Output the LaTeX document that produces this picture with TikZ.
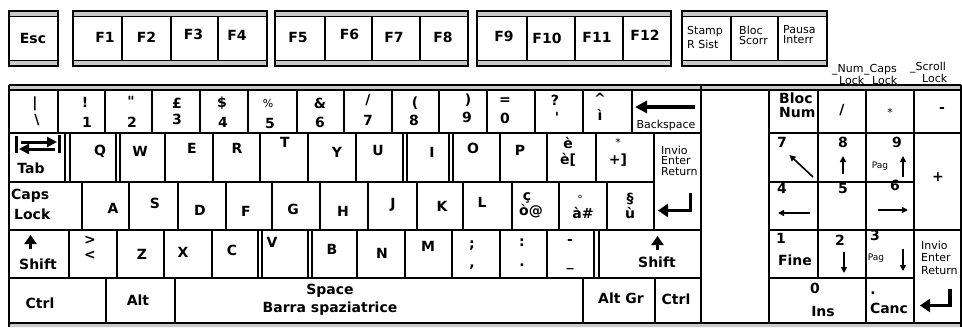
\documentclass[tikz,border=0pt]{standalone}
\usepackage{fontspec}
\setmainfont{DejaVu Sans}
\usetikzlibrary{arrows.meta}
\definecolor{stripgrey}{RGB}{200, 200, 200}
\newcommand{\keyfnt}{\fontsize{14}{14}\selectfont\bfseries}
\newcommand{\smallfnt}{\fontsize{11}{11}\selectfont}
\newcommand{\tinyfnt}{\fontsize{9}{9}\selectfont}

\begin{document}
\begin{tikzpicture}[x=1pt, y=-1pt,
    keyline/.style={line width=1.5pt},
    dbar/.style={line width=2pt},
    lbl/.style={font=\keyfnt, inner sep=0pt},
    sml/.style={font=\smallfnt, inner sep=0pt},
    tny/.style={font=\tinyfnt, inner sep=0pt},
    fatarrow/.style={line width=3.5pt, line join=miter, -{Triangle[length=10pt,width=13pt]}},
    shiftarrow/.style={line width=3.5pt, -{Triangle[length=9pt,width=12pt]}},
    tabarrow/.style={line width=3pt, -{Triangle[length=10pt,width=10pt]}},
    thinarrow/.style={line width=1.6pt, -{Triangle[length=6pt,width=6pt]}}]
    \useasboundingbox (0,0) rectangle (962,327);

    % function key groups
    \fill[stripgrey] (9,11) rectangle (58,16.5) (9,60.5) rectangle (58,66);
    \fill[stripgrey] (73,11) rectangle (267,16.5) (73,60.5) rectangle (267,66);
    \fill[stripgrey] (275,11) rectangle (468,16.5) (275,60.5) rectangle (468,66);
    \fill[stripgrey] (477,11) rectangle (671,16.5) (477,60.5) rectangle (671,66);
    \fill[stripgrey] (682,11) rectangle (827,16.5) (682,60.5) rectangle (827,66);
    \draw[keyline] (9,11) rectangle (58,66) (9,16.5) -- (58,16.5) (9,60.5) -- (58,60.5);
    \draw[keyline] (73,11) rectangle (267,66) (73,16.5) -- (267,16.5) (73,60.5) -- (267,60.5);
    \draw[keyline] (275,11) rectangle (468,66) (275,16.5) -- (468,16.5) (275,60.5) -- (468,60.5);
    \draw[keyline] (477,11) rectangle (671,66) (477,16.5) -- (671,16.5) (477,60.5) -- (671,60.5);
    \draw[keyline] (682,11) rectangle (827,66) (682,16.5) -- (827,16.5) (682,60.5) -- (827,60.5);
    \draw[keyline] (122,16.5) -- (122,60.5) (171,16.5) -- (171,60.5) (218,16.5) -- (218,60.5);
    \draw[keyline] (325,16.5) -- (325,60.5) (372,16.5) -- (372,60.5) (420,16.5) -- (420,60.5);
    \draw[keyline] (527,16.5) -- (527,60.5) (575,16.5) -- (575,60.5) (623,16.5) -- (623,60.5);
    \draw[keyline] (731,16.5) -- (731,60.5) (778,16.5) -- (778,60.5);

    \node[lbl] (esc) at (33,38) {Esc};
    \node[lbl] (f1) at (105,37) {F1};
    \node[lbl] (f2) at (146.5,37) {F2};
    \node[lbl] (f3) at (193.5,34) {F3};
    \node[lbl] (f4) at (237,35) {F4};
    \node[lbl] (f5) at (298,37) {F5};
    \node[lbl] (f6) at (349.5,34) {F6};
    \node[lbl] (f7) at (394,37) {F7};
    \node[lbl] (f8) at (443,37) {F8};
    \node[lbl] (f9) at (504,36) {F9};
    \node[lbl] (f10) at (547,38) {F10};
    \node[lbl] (f11) at (597,37) {F11};
    \node[lbl] (f12) at (645,35) {F12};
    \node[sml, anchor=west] (stamp1) at (687,32) {Stamp};
    \node[sml, anchor=west] (stamp2) at (687,44) {R Sist};
    \node[sml, anchor=west] (bloc1) at (739,30) {Bloc};
    \node[sml, anchor=west] (bloc2) at (739,40) {Scorr};
    \node[sml, anchor=west] (pausa1) at (783,30) {Pausa};
    \node[sml, anchor=west] (pausa2) at (783,40) {Interr};

    % lock lights
    \node[sml, anchor=west] (numlk1) at (832,70) {\_Num};
    \node[sml, anchor=west] (numlk2) at (839,80) {Lock};
    \node[sml, anchor=west] (capslk1) at (864,70) {\_Caps};
    \node[sml, anchor=west] (capslk2) at (872,80) {Lock};
    \node[sml, anchor=west] (scrlk1) at (910,68) {\_Scroll};
    \node[sml, anchor=west] (scrlk2) at (922,78) {Lock};

    % case frame
    \fill[stripgrey] (9,85) rectangle (961,90) (9,323) rectangle (961,327);
    \draw[keyline] (9,85) -- (961,85) (9,90) -- (961,90) (9,323) -- (961,323);
    \draw[keyline] (9,85) -- (9,327) (961,85) -- (961,327);
    \draw[keyline] (701,85) -- (701,323) (769,90) -- (769,323);

    % main block rows
    \draw[keyline] (9,133) -- (701,133) (9,182) -- (654,182) (9,230) -- (701,230) (9,278) -- (701,278);
    \draw[keyline] (58,90) -- (58,133) (105,90) -- (105,133) (152,90) -- (152,133) (200,90) -- (200,133)
        (248,90) -- (248,133) (297,90) -- (297,133) (344,90) -- (344,133) (392,90) -- (392,133)
        (439,90) -- (439,133) (487,90) -- (487,133) (535,90) -- (535,133) (583,90) -- (583,133)
        (632,90) -- (632,133);
    \draw[keyline] (165,133) -- (165,182) (213,133) -- (213,182) (260,133) -- (260,182) (308,133) -- (308,182)
        (356,133) -- (356,182) (500,133) -- (500,182) (547,133) -- (547,182) (596,133) -- (596,182)
        (654,133) -- (654,230);
    \draw[dbar] (64.5,133) -- (64.5,182) (69.5,133) -- (69.5,182) (116,133) -- (116,182) (120,133) -- (120,182)
        (402.5,133) -- (402.5,182) (406.5,133) -- (406.5,182) (449,133) -- (449,182) (453,133) -- (453,182);
    \draw[keyline] (82,182) -- (82,230) (129,182) -- (129,230) (178,182) -- (178,230) (226,182) -- (226,230)
        (272,182) -- (272,230) (320,182) -- (320,230) (368,182) -- (368,230) (417,182) -- (417,230)
        (463,182) -- (463,230) (512,182) -- (512,230) (559,182) -- (559,230) (607,182) -- (607,230);
    \draw[keyline] (69,230) -- (69,278) (117,230) -- (117,278) (164,230) -- (164,278) (212,230) -- (212,278)
        (357,230) -- (357,278) (405,230) -- (405,278) (452,230) -- (452,278) (500,230) -- (500,278)
        (547,230) -- (547,278);
    \draw[dbar] (258,230) -- (258,278) (262,230) -- (262,278) (308,230) -- (308,278) (312,230) -- (312,278)
        (594,230) -- (594,278) (598.5,230) -- (598.5,278);
    \draw[keyline] (106,278) -- (106,323) (175,278) -- (175,323) (583,278) -- (583,323) (655,278) -- (655,323);

    % number row
    \node[lbl] (bar) at (35,104) {|};
    \node[lbl] (bsl) at (37,120) {\textbackslash};
    \node[lbl] (k1a) at (85,102) {!};
    \node[lbl] (k1b) at (87,122) {1};
    \node[lbl] (k2a) at (131,101) {\textquotedbl};
    \node[lbl] (k2b) at (132,122) {2};
    \node[lbl] (k3a) at (177,103) {£};
    \node[lbl] (k3b) at (177,119) {3};
    \node[lbl] (k4a) at (222,103) {\$};
    \node[lbl] (k4b) at (223,122) {4};
    \node[sml] (k5a) at (268,103) {\%};
    \node[lbl] (k5b) at (270,123) {5};
    \node[lbl] (k6a) at (320,103) {\&};
    \node[lbl] (k6b) at (320,122) {6};
    \node[lbl] (k7a) at (368,100) {/};
    \node[lbl] (k7b) at (368,120) {7};
    \node[lbl] (k8a) at (415,103) {(};
    \node[lbl] (k8b) at (414,120) {8};
    \node[lbl] (k9a) at (468,100) {)};
    \node[lbl] (k9b) at (467,117) {9};
    \node[lbl] (k0a) at (505,101) {=};
    \node[lbl] (k0b) at (505,118) {0};
    \node[lbl] (kqma) at (555,100) {?};
    \node[lbl] (kqmb) at (557,117) {\textquotesingle};
    \node[lbl] (kiga) at (600,98) {\textasciicircum};
    \node[lbl] (kigb) at (600,115) {ì};
    \coordinate (bkspr) at (695,107);
    \coordinate (bkspl) at (635,107);
    \draw[line width=4pt, -{Triangle[length=12pt,width=12pt]}] (bkspr) -- (bkspl);
    \node[sml] (bksp) at (666,125) {Backspace};

    % qwerty row
    \draw[line width=3pt] (16,136) -- (16,153) (59.5,135) -- (59.5,153);
    \draw[tabarrow] (21,142) -- (57,142);
    \draw[tabarrow] (55,149) -- (19,149);
    \node[lbl] (tab) at (31,168) {Tab};
    \node[lbl] (kq) at (100,151) {Q};
    \node[lbl] (kw) at (140,151) {W};
    \node[lbl] (ke) at (192,148) {E};
    \node[lbl] (kr) at (237,148) {R};
    \node[lbl] (kt) at (285,142) {T};
    \node[lbl] (ky) at (337,152) {Y};
    \node[lbl] (ku) at (378,150) {U};
    \node[lbl] (ki) at (432,152) {I};
    \node[lbl] (ko) at (473,148) {O};
    \node[lbl] (kp) at (520,150) {P};
    \node[lbl] (kega) at (568,143) {è};
    \node[lbl] (kegb) at (568,160) {è[};
    \node[sml] (kpla) at (618,142) {*};
    \node[lbl] (kplb) at (618,160) {+]};
    \node[sml, anchor=west] (ent1) at (661,150) {Invio};
    \node[sml, anchor=west] (ent2) at (661,161) {Enter};
    \node[sml, anchor=west] (ent3) at (661,172) {Return};

    % home row
    \node[lbl, anchor=west] (caps1) at (11,196) {Caps};
    \node[lbl, anchor=west] (caps2) at (14,214) {Lock};
    \node[lbl] (ka) at (113,208) {A};
    \node[lbl] (ks) at (155,203) {S};
    \node[lbl] (kd) at (200,210) {D};
    \node[lbl] (kf) at (246,211) {F};
    \node[lbl] (kg) at (293,209) {G};
    \node[lbl] (kh) at (343,211) {H};
    \node[lbl] (kj) at (393,205) {J};
    \node[lbl] (kk) at (442,206) {K};
    \node[lbl] (kl) at (482,202) {L};
    \node[lbl] (kcea) at (527,198) {ç};
    \node[lbl] (kceb) at (531,211) {ò@};
    \node[sml] (kdega) at (580,199) {°};
    \node[lbl] (kdegb) at (583,213) {à\#};
    \node[lbl] (kpara) at (630,199) {§};
    \node[lbl] (kparb) at (630,213) {ù};
    \draw[fatarrow] (690.5,193) -- (690.5,210.5) -- (658,210.5);

    % shift row
    \draw[shiftarrow] (30.5,249) -- (30.5,235);
    \node[lbl] (shl) at (38,264) {Shift};
    \node[lbl] (kgt) at (90,240) {>};
    \node[lbl] (klt) at (90,255) {<};
    \node[lbl] (kz) at (142,254) {Z};
    \node[lbl] (kx) at (183,252) {X};
    \node[lbl] (kc) at (232,250) {C};
    \node[lbl] (kv) at (272,242) {V};
    \node[lbl] (kb) at (332,249) {B};
    \node[lbl] (kn) at (382,253) {N};
    \node[lbl] (km) at (428,246) {M};
    \node[lbl] (ksca) at (472,246) {;};
    \node[lbl] (kscb) at (472,267) {,};
    \node[lbl] (kcla) at (522,243) {:};
    \node[lbl] (kclb) at (522,265) {.};
    \node[lbl] (kmia) at (570,242) {-};
    \node[lbl] (kmib) at (570,268) {\_};
    \draw[shiftarrow] (657.5,250) -- (657.5,236);
    \node[lbl] (shr) at (657,262) {Shift};

    % bottom row
    \node[lbl] (ctl) at (40,303) {Ctrl};
    \node[lbl] (alt) at (138,300) {Alt};
    \node[lbl] (spc1) at (330,291) {Space};
    \node[lbl] (spc2) at (330,309) {Barra spaziatrice};
    \node[lbl] (altgr) at (621,298) {Alt Gr};
    \node[lbl] (ctr) at (676,299) {Ctrl};

    % numeric keypad
    \draw[keyline] (769,133) -- (961,133) (769,182) -- (914,182) (769,230) -- (961,230) (769,278) -- (914,278);
    \draw[keyline] (818,90) -- (818,278) (866,90) -- (866,323) (914,90) -- (914,323);
    \node[lbl, anchor=west] (bn1) at (779,98) {Bloc};
    \node[lbl, anchor=west] (bn2) at (779,112) {Num};
    \node[lbl] (kpsl) at (842,110) {/};
    \node[sml] (kpst) at (890,112) {*};
    \node[lbl] (kpmi) at (942,110) {-};
    \node[lbl] (kp7) at (782,142) {7};
    \draw[thinarrow] (813,177) -- (789.5,155);
    \node[lbl] (kp8) at (843,142) {8};
    \draw[thinarrow] (843,174) -- (843,156);
    \node[lbl] (kp9) at (897,142) {9};
    \node[tny] (kpg9) at (880,166) {Pag};
    \draw[thinarrow] (903,177) -- (903,156);
    \node[lbl] (kppl) at (938,177) {+};
    \node[lbl] (kp4) at (782,188) {4};
    \draw[thinarrow] (810,213) -- (778,213);
    \node[lbl] (kp5) at (843,188) {5};
    \node[lbl] (kp6) at (895,185) {6};
    \draw[thinarrow] (878,210) -- (908,210);
    \node[lbl] (kp1) at (781,238) {1};
    \node[lbl] (fine) at (795,260) {Fine};
    \node[lbl] (kp2) at (840,240) {2};
    \draw[thinarrow] (844,252) -- (844,273);
    \node[lbl] (kp3) at (875,235) {3};
    \node[tny] (kpg3) at (876,258) {Pag};
    \draw[thinarrow] (903,249) -- (903,271);
    \node[sml, anchor=west] (kent1) at (921,245) {Invio};
    \node[sml, anchor=west] (kent2) at (921,258) {Enter};
    \node[sml, anchor=west] (kent3) at (921,271) {Return};
    \node[lbl] (kp0) at (815,288) {0};
    \node[lbl] (ins) at (823,311) {Ins};
    \node[lbl] (kpdot) at (873,293) {.};
    \node[lbl] (canc) at (889,308) {Canc};
    \draw[fatarrow] (950,289) -- (950,305.5) -- (920,305.5);
\end{tikzpicture}
\end{document}
